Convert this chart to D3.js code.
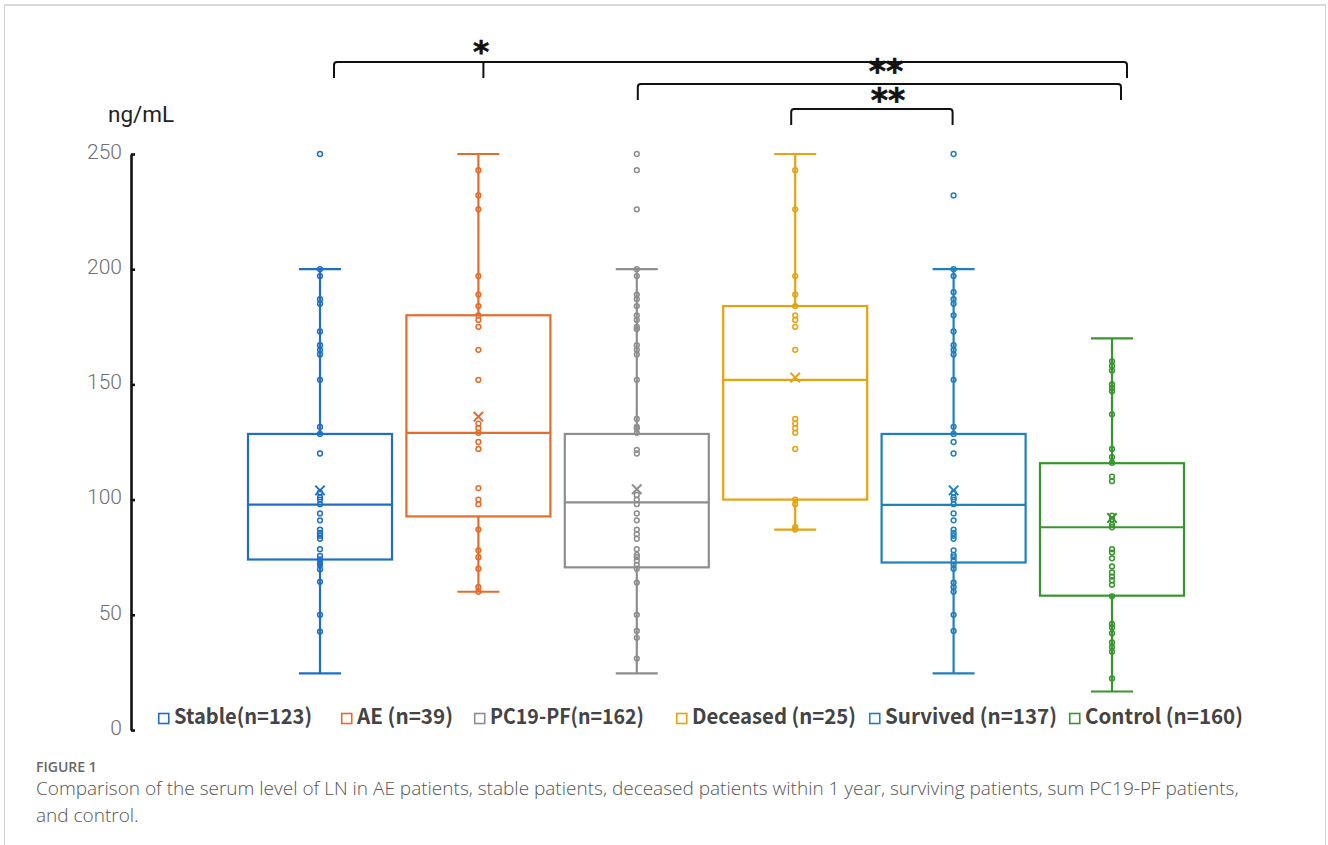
<!DOCTYPE html>
<html>
<head>
<meta charset="utf-8">
<script src="https://cdn.jsdelivr.net/npm/d3@7"></script>
<style>
  body { margin: 0; background: #fff; }
  svg { display: block; }
</style>
</head>
<body>
<svg id="chart" width="1328" height="845"></svg>
<script>
// group data
var groups = ["Stable", "AE", "PC19-PF", "Deceased", "Survived", "Control"];
var legendLabels = ["Stable(n=123)", "AE (n=39)", "PC19-PF(n=162)", "Deceased (n=25)", "Survived (n=137)", "Control (n=160)"];
var colors = ["#1f6fc8", "#e36c2a", "#8e8e8e", "#e6a20f", "#1f80be", "#38962e"];

var q1 = [74, 92.7, 70.6, 100, 72.7, 58.3];
var median = [97.8, 129, 98.8, 152, 97.7, 88];
var q3 = [128.5, 180, 128.5, 184, 128.5, 115.8];
var whiskerLow = [24.6, 60, 24.6, 87, 24.6, 16.7];
var whiskerHigh = [200, 250, 200, 250, 200, 170];
var means = [104, 136, 104.5, 153, 104, 92];

var stablePts = [250, 200, 197, 187, 185, 173, 167, 165, 163, 152, 131.5, 128.5, 120, 103, 101, 100, 98, 94, 91, 87, 85.5, 84.3, 83, 78.5, 75.6, 74, 72.4, 71.7, 69.8, 64.3, 50, 42.7];
var aePts = [243, 232, 226, 197, 189, 184, 180, 178, 175, 165, 152, 133, 131, 129, 125, 122, 105, 100, 98, 87, 78, 75, 70, 62, 60];
var pcPts = [250, 243, 226, 200, 197, 189, 187, 184, 180, 178, 175, 174, 167, 165, 163, 152, 135, 131.6, 131, 129, 121.6, 120, 102, 100, 98, 94, 91, 87, 85, 83, 78.5, 76, 75, 73.5, 71.7, 70, 64, 50, 43, 40, 31];
var deceasedPts = [243, 226, 197, 189, 184, 180, 178, 175, 165, 135, 133, 131, 129, 122, 100, 98, 88, 87];
var survivedPts = [250, 232, 200, 197, 190, 187, 185, 180, 173, 167, 165, 163, 152, 131.6, 128.5, 125, 120, 103, 101, 100, 98, 94, 91, 87, 85.5, 84.3, 83, 78, 76, 75, 73.5, 71.7, 70, 64, 62, 60, 50, 43];
var controlPts = [160, 158, 156, 150, 148.5, 147, 137, 122, 118.4, 116, 110, 108, 93, 91.5, 89, 88, 78.5, 77, 74.5, 71, 68.4, 66.6, 65, 63, 58, 46, 44.5, 42, 38, 36, 34, 22.4];
var points = [stablePts, aePts, pcPts, deceasedPts, survivedPts, controlPts];

var yTicks = [0, 50, 100, 150, 200, 250];

// significance brackets
var bracketTicks = [["Stable", "AE", "Control"], ["PC19-PF", "Control"], ["Deceased", "Survived"]];
var bracketLabels = ["*", "**", "**"];

var svg = d3.select("#chart"),
    width = +svg.attr("width"),
    height = +svg.attr("height");

// card frame
svg.append("line").attr("x1", 4).attr("x2", 1326).attr("y1", 5).attr("y2", 5)
    .attr("stroke", "#d8d8d8").attr("stroke-width", 2);
svg.append("line").attr("x1", 4.5).attr("x2", 4.5).attr("y1", 5).attr("y2", height)
    .attr("stroke", "#d0d0d0").attr("stroke-width", 1);
svg.append("line").attr("x1", 1325.5).attr("x2", 1325.5).attr("y1", 5).attr("y2", height)
    .attr("stroke", "#d0d0d0").attr("stroke-width", 1);

var y = d3.scaleLinear().domain([0, 250]).range([730, 154]);
var x = d3.scalePoint().domain(groups).range([240.8, 1191.2]).padding(0.5);

var boxW = 144, capW = 42;

// y axis
var yAxis = svg.append("g")
    .attr("transform", "translate(131,0)")
    .call(d3.axisLeft(y).tickValues(yTicks).tickSizeInner(-4).tickSizeOuter(0).tickPadding(9));
yAxis.select(".domain").attr("stroke", "#111").attr("stroke-width", 2.6);
yAxis.selectAll(".tick line").attr("stroke", "#111").attr("stroke-width", 2.6);
yAxis.selectAll(".tick text")
    .attr("fill", "#707070")
    .attr("dy", "0.2em")
    .style("font-family", "Roboto")
    .style("font-weight", 300)
    .style("font-size", "21px");

svg.append("text")
    .attr("x", 108).attr("y", 122)
    .text("ng/mL")
    .style("font-family", "Roboto")
    .style("font-size", "22.5px")
    .attr("fill", "#222");

// boxes
var g = svg.append("g");
groups.forEach(function (name, i) {
    var cx = x(name), c = colors[i];
    var grp = g.append("g");
    grp.append("rect")
        .attr("x", cx - boxW / 2).attr("width", boxW)
        .attr("y", y(q3[i])).attr("height", y(q1[i]) - y(q3[i]))
        .attr("fill", "none").attr("stroke", c).attr("stroke-width", 2.2);
    grp.append("line")
        .attr("x1", cx - boxW / 2).attr("x2", cx + boxW / 2)
        .attr("y1", y(median[i])).attr("y2", y(median[i]))
        .attr("stroke", c).attr("stroke-width", 2.2);
    // whiskers
    [[whiskerHigh[i], q3[i]], [whiskerLow[i], q1[i]]].forEach(function (w) {
        grp.append("line")
            .attr("x1", cx).attr("x2", cx)
            .attr("y1", y(w[0])).attr("y2", y(w[1]))
            .attr("stroke", c).attr("stroke-width", 2.2);
        grp.append("line")
            .attr("x1", cx - capW / 2).attr("x2", cx + capW / 2)
            .attr("y1", y(w[0])).attr("y2", y(w[0]))
            .attr("stroke", c).attr("stroke-width", 2.2);
    });
    grp.selectAll("circle")
        .data(points[i])
        .enter()
        .append("circle")
        .attr("cx", cx)
        .attr("cy", function (d) { return y(d); })
        .attr("r", 2.4)
        .attr("fill", "none")
        .attr("stroke", c)
        .attr("stroke-width", 1.5);
    grp.append("path")
        .attr("d", d3.symbol(d3.symbolTimes, 60)())
        .attr("transform", "translate(" + cx + "," + y(means[i]) + ")")
        .attr("fill", "none").attr("stroke", c).attr("stroke-width", 2);
});

// brackets
var bracketY = [62, 84, 109];
var bracketDrop = 16;
var bracketDx = [[14, 5, 15], [1, 9], [-4, -1]];
var labelPos = [[481, 62, 31], [886, 83, 33], [888, 112, 33]];
bracketTicks.forEach(function (ticks, k) {
    var xs = ticks.map(function (t, j) { return x(t) + bracketDx[k][j]; });
    var by = bracketY[k], r = 3;
    var x0 = xs[0], x1 = xs[xs.length - 1];
    var p = d3.path();
    p.moveTo(x0, by + bracketDrop);
    p.lineTo(x0, by + r);
    p.quadraticCurveTo(x0, by, x0 + r, by);
    p.lineTo(x1 - r, by);
    p.quadraticCurveTo(x1, by, x1, by + r);
    p.lineTo(x1, by + bracketDrop);
    xs.slice(1, -1).forEach(function (xm) {
        p.moveTo(xm, by);
        p.lineTo(xm, by + bracketDrop);
    });
    svg.append("path").attr("d", p.toString())
        .attr("fill", "none").attr("stroke", "#111").attr("stroke-width", 2);
    svg.append("text")
        .attr("x", labelPos[k][0]).attr("y", labelPos[k][1])
        .attr("text-anchor", "middle")
        .style("font-family", "DejaVu Sans")
        .style("font-weight", "bold")
        .style("font-size", labelPos[k][2] + "px")
        .attr("fill", "#111")
        .attr("stroke", "#111").attr("stroke-width", 0.6)
        .text(bracketLabels[k]);
});

// legend
var legendX = [158, 341, 474, 676, 869, 1069];
var legendW = [138, 96, 154, 164, 172, 158];
var lg = svg.append("g");
legendLabels.forEach(function (lab, i) {
    lg.append("rect")
        .attr("x", legendX[i] + 0.75).attr("y", 713.5)
        .attr("width", 10).attr("height", 10)
        .attr("fill", "none").attr("stroke", colors[i]).attr("stroke-width", 1.6);
    lg.append("text")
        .attr("x", legendX[i] + 16).attr("y", 724)
        .attr("textLength", legendW[i])
        .attr("lengthAdjust", "spacingAndGlyphs")
        .style("font-family", "'Noto Sans CJK SC', 'Noto Sans'")
        .style("font-weight", "bold")
        .style("font-size", "21px")
        .attr("fill", "#444")
        .text(lab);
});

// caption
svg.append("text")
    .attr("x", 36).attr("y", 772)
    .style("font-family", "'Open Sans'")
    .style("font-weight", 600)
    .style("font-size", "14px")
    .attr("fill", "#666")
    .text("FIGURE 1");
var captionLines = [
    "Comparison of the serum level of LN in AE patients, stable patients, deceased patients within 1 year, surviving patients, sum PC19-PF patients,",
    "and control."
];
svg.selectAll(".cap")
    .data(captionLines)
    .enter()
    .append("text")
    .attr("class", "cap")
    .attr("x", 36)
    .attr("y", function (d, i) { return 795 + i * 27; })
    .style("font-family", "'Open Sans'")
    .style("font-weight", 300)
    .style("font-size", "19px")
    .attr("fill", "#555")
    .text(function (d) { return d; });
</script>
</body>
</html>
